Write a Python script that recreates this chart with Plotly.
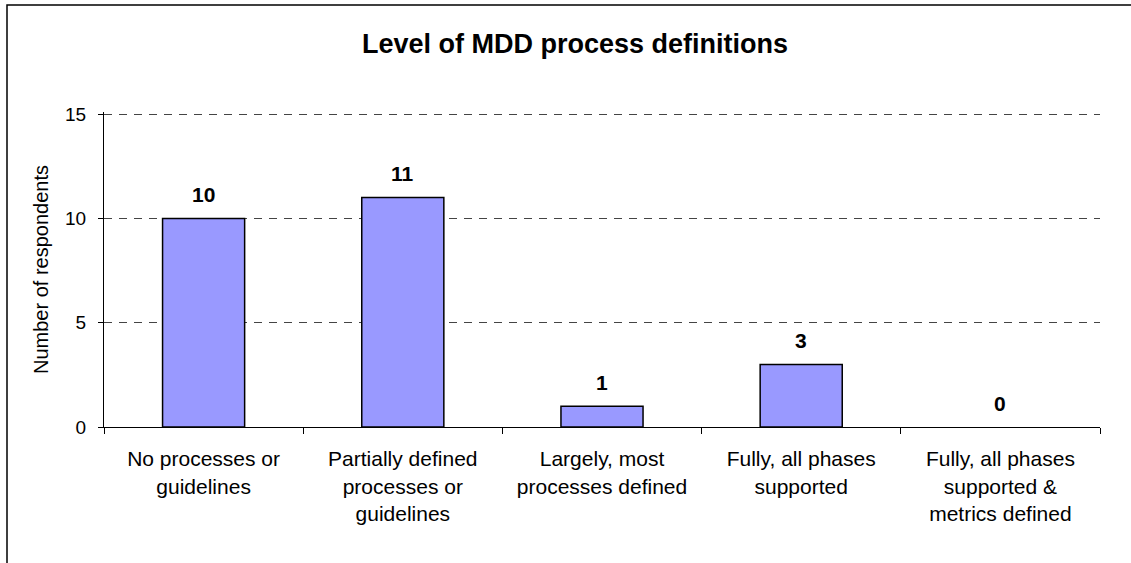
import plotly.graph_objects as go

categories = [
    "No processes or<br>guidelines",
    "Partially defined<br>processes or<br>guidelines",
    "Largely, most<br>processes defined",
    "Fully, all phases<br>supported",
    "Fully, all phases<br>supported &<br>metrics defined",
]
values = [10, 11, 1, 3, 0]
y_ticks = [0, 5, 10, 15]

FONT = "Liberation Sans, Arial, sans-serif"

fig = go.Figure()
fig.add_trace(go.Bar(
    x=categories, y=values,
    marker=dict(color="#9999FF",
                line=dict(color="black", width=[1.5 if v else 0 for v in values])),
    hoverinfo="x+y",
))

for c, v in zip(categories, values):
    fig.add_annotation(x=c, y=v, text=f"<b>{v}</b>", showarrow=False,
                       yanchor="middle", yshift=24,
                       font=dict(family=FONT, size=21, color="black"))

W, H = 1131, 563
L, R, T, B = 104, 31, 112, 136
pw, ph = W - L - R, H - T - B

def px_x(x):
    return (x - L) / pw

def px_y(y):
    return (H - B - y) / ph

fig.add_shape(type="rect", xref="paper", yref="paper",
              x0=px_x(7), x1=px_x(1140), y0=px_y(5), y1=px_y(575),
              line=dict(color="black", width=1.5), fillcolor="rgba(0,0,0,0)")

fig.update_layout(
    width=W, height=H,
    margin=dict(l=L, r=R, t=T, b=B),
    paper_bgcolor="white", plot_bgcolor="white",
    bargap=0.588,
    showlegend=False,
    font=dict(family=FONT, size=19, color="black"),
    title=dict(text="<b>Level of MDD process definitions</b>",
               xref="container", yref="container",
               x=575 / W, xanchor="center",
               y=1 - 44 / H, yanchor="middle",
               font=dict(family=FONT, size=27, color="black")),
    xaxis=dict(
        type="category",
        showgrid=False,
        showline=True, linecolor="black", linewidth=1,
        ticks="outside", tickson="boundaries", ticklen=6, tickcolor="black",
        ticklabelstandoff=13,
        tickfont=dict(family=FONT, size=21, color="black"),
    ),
    yaxis=dict(
        range=[0, 15.1], tickvals=y_ticks,
        showgrid=True, gridcolor="#444444", griddash="8px,7px", gridwidth=1,
        zeroline=False,
        showline=True, linecolor="black", linewidth=1,
        ticks="outside", ticklen=5, tickcolor="black",
        ticklabelstandoff=8,
        tickfont=dict(family=FONT, size=19, color="black"),
        title=dict(text="Number of respondents", standoff=11,
                   font=dict(family=FONT, size=20, color="black")),
    ),
)

fig.write_html("out.html",
               config={"displayModeBar": False},
               post_script="document.body.style.margin='0';document.body.style.overflow='hidden';")
